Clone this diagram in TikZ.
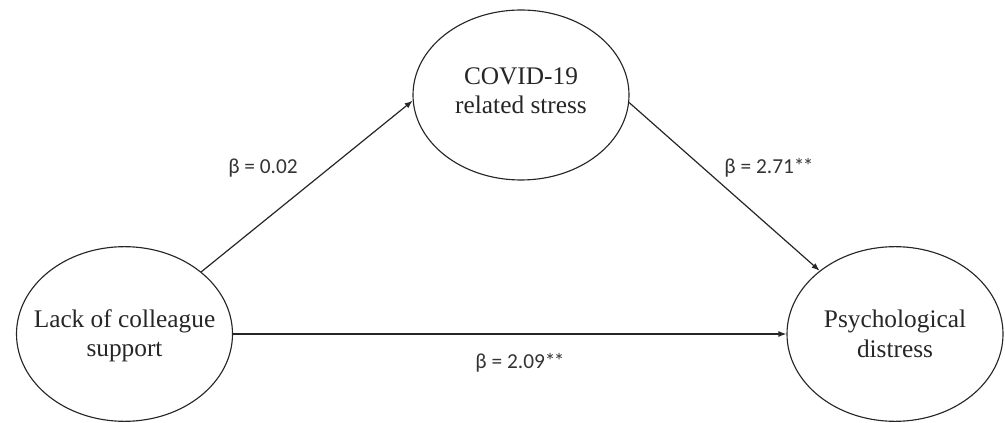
\documentclass[tikz,border=0pt]{standalone}
\usepackage{fontspec}
\setmainfont{Liberation Serif}
\newfontfamily\lblfont{Carlito}
\usetikzlibrary{shapes.geometric,arrows.meta}
\newcommand{\twostar}{*\kern-1.2pt*}
\begin{document}
\begin{tikzpicture}[x=0.75pt,y=-0.75pt,
  latent/.style={draw=black!85, line width=0.85pt, ellipse, minimum width=162pt, minimum height=131pt, inner sep=0pt},
  vartext/.style={font=\fontsize{19}{22}\selectfont, align=center, text=black!85, inner sep=0pt},
  pathline/.style={draw=black!85, line width=0.9pt, -{Latex[length=6pt,width=4.5pt]}},
  coef/.style={font=\lblfont\fontsize{16}{18}\selectfont, text=black!80, inner sep=0pt}]
\useasboundingbox (0,0) rectangle (1005,423);
\node[latent] (L) at (124.5,334) {};
\node[latent, minimum height=127.5pt] (T) at (521,95) {};
\node[latent] (R) at (895,334) {};
\node[vartext] (Lt) at (124.5,336) {Lack of colleague\\support};
\node[vartext] (Tt) at (521,90.6) {COVID-19\\related stress};
\node[vartext] (Rt) at (895,334) {Psychological\\distress};
\draw[pathline] (L.39) -- (T.183);
\draw[pathline] (T.-4) -- (R.140);
\draw[pathline] (L.east) -- (R.west);
\node[coef] (c1) at (263,168) {β = 0.02};
\node[coef] (c2) at (769,168) {β = 2.71\twostar};
\node[coef] (c3) at (520,363) {β = 2.09\twostar};
\end{tikzpicture}
\end{document}
